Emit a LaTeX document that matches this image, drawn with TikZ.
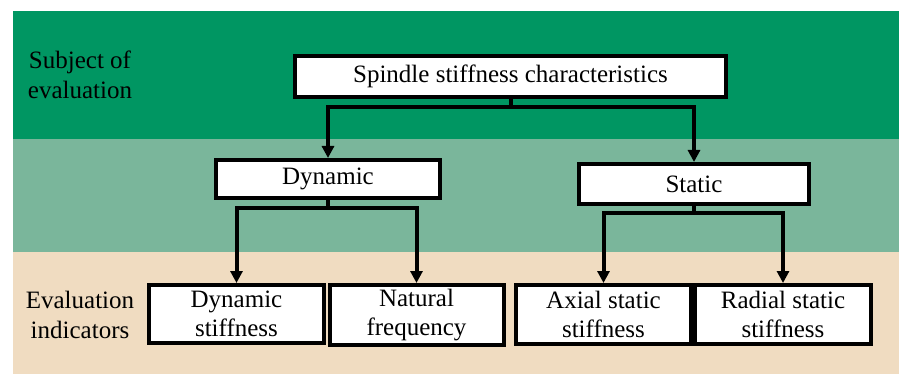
\documentclass[tikz,border=0pt]{standalone}
\usepackage{fontspec}
\setmainfont{Liberation Serif}
\usetikzlibrary{arrows.meta}
\definecolor{bandA}{RGB}{0,150,98}
\definecolor{bandB}{RGB}{122,182,155}
\definecolor{bandC}{RGB}{240,220,193}
\tikzset{
  box/.style={draw=black, line width=4pt, fill=white, inner sep=0pt, align=center,
    font=\rmfamily\fontsize{25}{29}\selectfont},
  lbl/.style={inner sep=0pt, align=center, font=\rmfamily\fontsize{25}{30}\selectfont},
  arr/.style={line width=4pt, -{Triangle[width=12pt,length=12pt]}},
}
\begin{document}
\begin{tikzpicture}[x=1pt,y=-1pt]
\useasboundingbox (0,0) rectangle (899,374);
\fill[bandA] (13,11) rectangle (899,139);
\fill[bandB] (13,139) rectangle (899,252);
\fill[bandC] (13,252) rectangle (899,374);

\node[lbl] (subj) at (80,75) {Subject of\\evaluation};
\node[lbl] (eval) at (80,315) {Evaluation\\indicators};

\node[box, minimum width=431pt, minimum height=41pt] (top) at (510.5,76.5) {Spindle stiffness characteristics};
\node[box, minimum width=224pt, minimum height=38pt] (dyn) at (328,179) {Dynamic};
\node[box, minimum width=230pt, minimum height=40pt] (stat) at (694,184) {Static};

\node[box, minimum width=175pt, minimum height=58pt] (ds) at (236.5,314) {Dynamic\\stiffness};
\node[box, minimum width=174pt, minimum height=60pt] (nf) at (416.5,315) {Natural\\frequency};
\node[box, minimum width=175pt, minimum height=59pt] (as) at (603.5,314.5) {Axial static\\stiffness};
\node[box, minimum width=176pt, minimum height=59pt] (rs) at (783,314.5) {Radial static\\stiffness};

\draw[arr] (top.south) -- ++(0,8) -| (dyn.north);
\draw[arr] (top.south) -- ++(0,8) -| (stat.north);
\draw[arr] (dyn.south) -- ++(0,8) -| (ds.north);
\draw[arr] (dyn.south) -- ++(0,8) -| (nf.north);
\draw[arr] (stat.south) -- ++(0,7) -| (as.north);
\draw[arr] (stat.south) -- ++(0,7) -| (rs.north);
\end{tikzpicture}
\end{document}
